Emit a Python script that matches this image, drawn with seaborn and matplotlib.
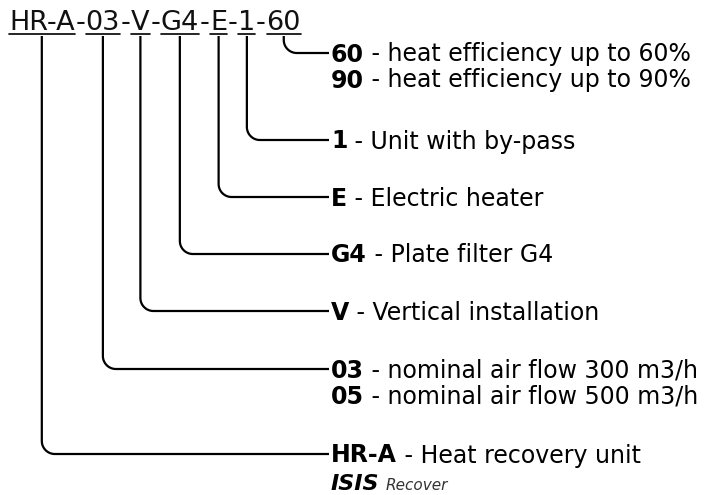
import numpy as np
import matplotlib
matplotlib.use("Agg")
import matplotlib.pyplot as plt
import seaborn as sns

# model code pieces, left to right
codes = ["HR-A", "03", "V", "G4", "E", "1", "60"]
# description lines for each code (bold key, text)
descriptions = {
    "HR-A": [("HR-A", "Heat recovery unit")],
    "03": [("03", "nominal air flow 300 m3/h"), ("05", "nominal air flow 500 m3/h")],
    "V": [("V", "Vertical installation")],
    "G4": [("G4", "Plate filter G4")],
    "E": [("E", "Electric heater")],
    "1": [("1", "Unit with by-pass")],
    "60": [("60", "heat efficiency up to 60%"), ("90", "heat efficiency up to 90%")],
}
brand = "ISIS"
brand_sub = "Recover"

# layout (pixels)
W, H = 718, 495
row_y = {"60": 53, "1": 140, "E": 197, "G4": 254, "V": 311, "03": 369, "HR-A": 454}
line_gap = 26
text_x = 331
line_end = 329
header_x, header_base, underline_y, drop_top = 9, 30, 33.5, 36
dash_pad = 0.6
radius = 13
fs_head, fs_row = 19.5, 17
lw = 1.6

sns.set_theme(style="white")
plt.rcParams["font.family"] = ["DejaVu Sans"]

fig = plt.figure(figsize=(W / 100, H / 100), dpi=100)
ax = fig.add_axes([0, 0, 1, 1])
ax.set_xlim(0, W)
ax.set_ylim(H, 0)
ax.axis("off")
renderer = fig.canvas.get_renderer()
inv = ax.transData.inverted()


def put(x, y, s, color="black", **kw):
    t = ax.text(x, y, s, va="baseline", ha="left", color=color, **kw)
    bb = t.get_window_extent(renderer=renderer)
    (x0, _), (x1, _) = inv.transform([[bb.x0, bb.y0], [bb.x1, bb.y1]])
    return x0, x1


# header with underlined pieces
x = header_x
centers = {}
for i, c in enumerate(codes):
    x0, x1 = put(x, header_base, c, fontsize=fs_head, color="#111111")
    ax.plot([x0, x1], [underline_y, underline_y], color="black", lw=1.2)
    centers[c] = (x0 + x1) / 2
    x = x1
    if i < len(codes) - 1:
        _, x = put(x + dash_pad, header_base, "-", fontsize=fs_head, color="#111111")
        x += dash_pad

# drop lines with rounded corner, one polyline each
th = np.linspace(np.pi, np.pi / 2, 24)
for c in codes:
    cx = centers[c]
    y = row_y[c]
    xs = np.concatenate([[cx], cx + radius + radius * np.cos(th), [line_end]])
    ys = np.concatenate([[drop_top], y - radius + radius * np.sin(th), [y]])
    ax.plot(xs, ys, color="black", lw=lw, solid_capstyle="butt", solid_joinstyle="round")

# description rows
cap = 0.36 * fs_row * 100 / 72
for c in codes:
    for k, (key, txt) in enumerate(descriptions[c]):
        yb = row_y[c] + k * line_gap + cap
        _, xe = put(text_x, yb, key, fontsize=fs_row, fontweight="bold")
        put(xe, yb, " - " + txt, fontsize=fs_row)

yb = row_y["HR-A"] + line_gap + 2 + cap
_, xe = put(text_x, yb, brand, fontsize=fs_row - 1, fontweight="bold", fontstyle="italic")
put(xe + 6, yb, brand_sub, fontsize=11, fontstyle="italic", color="#333333")

fig.savefig("out.png", dpi=100)
